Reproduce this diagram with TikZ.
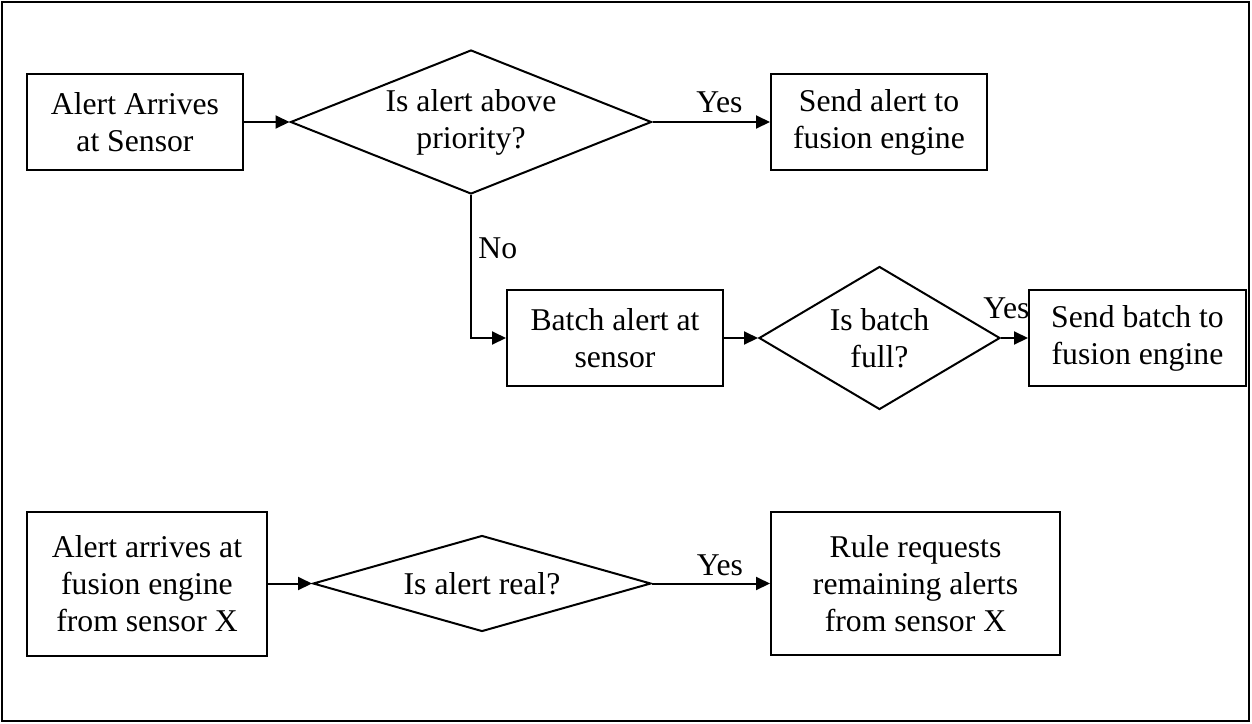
\documentclass[tikz,border=0pt]{standalone}
\usepackage{fontspec}
\setmainfont{Liberation Serif}
\usetikzlibrary{shapes.geometric,arrows.meta}

\begin{document}
\begin{tikzpicture}[x=0.5pt,y=-0.5pt,
  every node/.style={font=\fontsize{15.85pt}{18.5pt}\selectfont},
  box/.style={draw, line width=1pt, inner sep=0pt, align=center, rectangle},
  decision/.style={draw, diamond, line width=1pt, inner sep=0pt, align=center, shape aspect=2.5},
  flow/.style={line width=1pt, -{Triangle[length=7pt,width=6.5pt]}},
  lbl/.style={inner sep=0pt, anchor=base}]

  \useasboundingbox (0,0) rectangle (1252,723);
  % outer frame
  \draw[line width=1.2pt] (2,2) rectangle (1249,721);

  % sensor side: priority check and batching
  \node[box, minimum width=108pt, minimum height=48pt] (arrive) at (135,122) {Alert Arrives\\at Sensor};
  \node[decision, minimum width=180.5pt, minimum height=72pt] (prio) at (471,122) {Is alert above\\priority?};
  \node[box, minimum width=108pt, minimum height=48pt] (sendalert) at (879,122) {Send alert to\\fusion engine};
  \node[box, minimum width=108pt, minimum height=48pt] (batch) at (615,338) {Batch alert at\\sensor};
  \node[decision, minimum width=120.5pt, minimum height=71.5pt, shape aspect=2] (full) at (879.5,338) {Is batch\\full?};
  \node[box, minimum width=108.5pt, minimum height=48pt] (sendbatch) at (1137.5,338) {Send batch to\\fusion engine};

  % fusion engine side
  \node[box, minimum width=120pt, minimum height=72pt] (fusion) at (147,583.5) {Alert arrives at\\fusion engine\\from sensor X};
  \node[decision, minimum width=169pt, minimum height=48pt, shape aspect=3.5] (real) at (482,583.5) {Is alert real?};
  \node[box, minimum width=144.5pt, minimum height=71.5pt] (rule) at (915.5,583.5) {Rule requests\\remaining alerts\\from sensor X};

  % connectors
  \draw[flow] (arrive.east) -- (prio.west);
  \draw[flow] (prio.east) -- node[lbl, pos=0.57, yshift=5pt] {Yes} (sendalert.west);
  \draw[flow] (prio.south) |- (batch.west);
  \node[inner sep=0pt, anchor=base west] (nolbl) at (478,258) {No};
  \draw[flow] (batch.east) -- (full.west);
  \draw[flow] (full.east) -- node[lbl, pos=0.2, yshift=10pt] {Yes} (sendbatch.west);
  \draw[flow] (fusion.east) -- (real.west);
  \draw[flow] (real.east) -- node[lbl, pos=0.575, yshift=4pt] {Yes} (rule.west);
\end{tikzpicture}
\end{document}
